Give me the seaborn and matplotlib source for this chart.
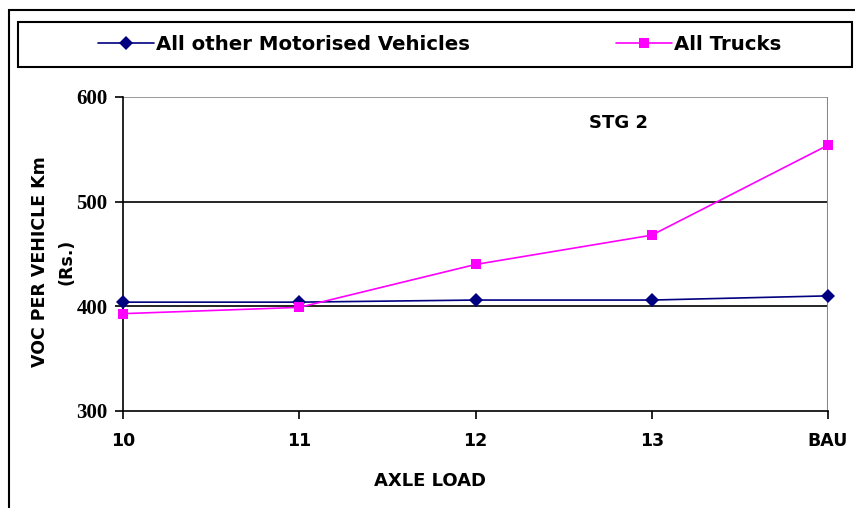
import matplotlib
matplotlib.use("Agg")
import matplotlib.pyplot as plt
import seaborn as sns
import pandas as pd
from matplotlib.patches import Rectangle

categories = ["10", "11", "12", "13", "BAU"]
other_vehicles = [404, 404, 406, 406, 410]
all_trucks = [393, 399, 440, 468, 554]
series_names = ["All other Motorised Vehicles", "All Trucks"]

df = pd.DataFrame({
    "axle": categories * 2,
    "voc": other_vehicles + all_trucks,
    "series": [series_names[0]] * 5 + [series_names[1]] * 5,
})

sns.set_theme(style="white")
plt.rcParams['font.family'] = ['DejaVu Sans']
plt.rcParams['font.weight'] = 'bold'
plt.rcParams['text.color'] = 'black'
plt.rcParams['axes.labelcolor'] = 'black'
plt.rcParams['xtick.color'] = 'black'
plt.rcParams['ytick.color'] = 'black'

fig = plt.figure(figsize=(8.55, 5.08), dpi=100)
ax = fig.add_axes([123/855, 1 - 411/508, (828-123)/855, (411-97)/508])

palette = {series_names[0]: "#000080", series_names[1]: "#FF00FF"}
markers = {series_names[0]: "D", series_names[1]: "s"}
sns.lineplot(data=df, x="axle", y="voc", hue="series", style="series",
             palette=palette, markers=markers, dashes=False, ax=ax,
             linewidth=1.2, markersize=7, markeredgewidth=0, sort=False)
for ln in ax.lines:
    ln.set_clip_on(False)
    ln.set_zorder(5)

ax.set_xlim(0, 4)
ax.set_ylim(300, 600)
ax.set_yticks([300, 400, 500, 600])
for v in [400, 500]:
    ax.axhline(v, color="black", lw=1.2, zorder=1)
ax.axhline(600, color="#888888", lw=1.2, zorder=1)

for s in ["top", "right"]:
    ax.spines[s].set_visible(False)
ax.spines["left"].set_color("black")
ax.spines["bottom"].set_color("black")
ax.spines["left"].set_linewidth(1.2)
ax.spines["bottom"].set_linewidth(1.2)
ax.axvline(4, color="#888888", lw=1.5, zorder=1)

ax.tick_params(axis="both", which="both", direction="out", length=6, width=1.2,
               color="black", left=True, bottom=True)
ax.tick_params(axis="x", pad=9, labelsize=12.5)
ax.tick_params(axis="y", pad=5)
for lbl in ax.get_xticklabels():
    lbl.set_fontweight("bold")
for lbl in ax.get_yticklabels():
    lbl.set_fontweight("bold")
    lbl.set_fontfamily(["Liberation Serif", "DejaVu Serif"])
    lbl.set_fontsize(15)

ax.set_xlabel("AXLE LOAD", fontsize=13, fontweight="bold")
ax.xaxis.label.set_va("center")
ax.xaxis.set_label_coords((430 - 123) / 705, (411 - 481) / 314)

ax.set_ylabel("VOC PER VEHICLE Km\n(Rs.)", fontsize=12.5, fontweight="bold",
              linespacing=1.6)
ax.yaxis.label.set_rotation_mode("default")
ax.yaxis.label.set_va("center")
ax.yaxis.label.set_ha("center")
ax.yaxis.set_label_coords((53 - 123) / 705, (411 - 262) / 314)

ax.text(2.81, 575, "STG 2", fontsize=13, fontweight="bold", ha="center", va="center")

ax.get_legend().remove()
handles, labels = ax.get_legend_handles_labels()
leg = fig.legend(handles, labels, loc="center",
                 bbox_to_anchor=(440/855, 1 - 44/508),
                 ncol=2, frameon=False, handlelength=2.8, handletextpad=0.15,
                 columnspacing=7.4, borderaxespad=0,
                 prop={"weight": "bold", "size": 14.2})

fig.patches.append(Rectangle((18/855, 1 - 67/508), (852-18)/855, 45/508,
                             transform=fig.transFigure, fill=False,
                             edgecolor="black", lw=1.5))
fig.patches.append(Rectangle((9/855, -0.01), 1, 1.01 - 10/508, transform=fig.transFigure,
                             fill=False, edgecolor="black", lw=1.5))

fig.savefig("out.png", dpi=100)
